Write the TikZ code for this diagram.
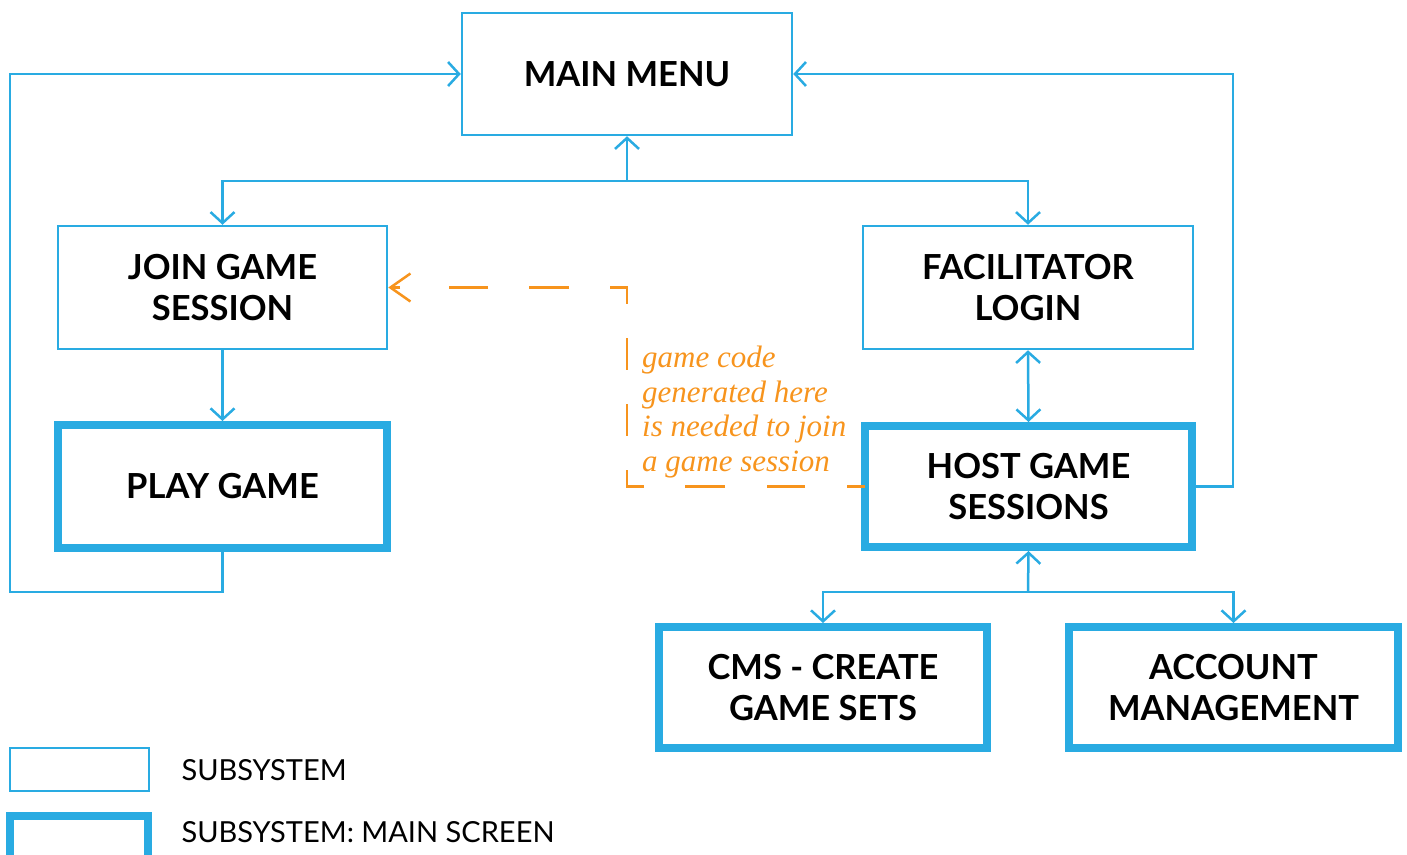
\documentclass[tikz,border=0pt]{standalone}
\usepackage{fontspec}
\setmainfont{Lato}
\newfontfamily\notefont{Liberation Serif}
\usetikzlibrary{arrows.meta}
\definecolor{linkblue}{HTML}{29ABE2}
\definecolor{noteorange}{HTML}{F7941D}
\tikzset{
  barb/.tip={Straight Barb[length=11pt,width=24pt,line width=2.5pt]},
  bigbarb/.tip={Straight Barb[length=20pt,width=28pt,line width=2.5pt]},
  subsys/.style={draw=linkblue, line width=2.5pt, align=center,
    font=\fontsize{34.5}{41}\selectfont\bfseries},
  mainscreen/.style={subsys, line width=8pt},
  conn/.style={draw=linkblue, line width=2.5pt, -barb},
  twoway/.style={draw=linkblue, line width=2.5pt, barb-barb},
  notelink/.style={draw=noteorange, line width=2.5pt,
    dash pattern=on 18pt off 42pt on 38pt off 42pt on 40pt off 41pt
      on 34pt off 34pt on 32pt off 34pt on 32pt off 34pt on 33pt
      off 41pt on 40pt off 41pt on 39pt off 100pt},
  notetip/.style={draw=noteorange, line width=2.5pt, -bigbarb},
  legendtext/.style={anchor=west, font=\fontsize{29}{34}\selectfont}
}
\begin{document}
\begin{tikzpicture}[x=1pt,y=-1pt]
\useasboundingbox (0,0) rectangle (1407,854);

% subsystems
\node[subsys, minimum width=330pt, minimum height=122pt] (mm) at (627,74) {MAIN MENU};
\node[subsys, minimum width=329pt, minimum height=123pt] (join) at (222.5,287.5) {JOIN GAME\\SESSION};
\node[subsys, minimum width=330pt, minimum height=123pt] (fac) at (1028,287.5) {FACILITATOR\\LOGIN};
\node[mainscreen, minimum width=329pt, minimum height=123pt] (play) at (222.5,486.5) {PLAY GAME};
\node[mainscreen, minimum width=327pt, minimum height=121pt] (host) at (1028.5,486.5) {HOST GAME\\SESSIONS};
\node[mainscreen, minimum width=328pt, minimum height=121pt] (cms) at (823,687.5) {CMS - CREATE\\GAME SETS};
\node[mainscreen, minimum width=329pt, minimum height=121pt] (acct) at (1233.5,687.5) {ACCOUNT\\MANAGEMENT};

% junctions and bends
\coordinate (topfork) at (627,181);
\coordinate (botfork) at (1028,592);
\coordinate (leftloop) at (10,592);
\coordinate (rightloop) at (1233,486.5);
\coordinate (notestart) at (865,486.5);
\coordinate (notebot) at (627,486.5);
\coordinate (notetop) at (627,287.5);
\coordinate (notehead) at (400,287.5);

% connectors
\draw[conn] (topfork) -- (mm.south);
\draw[conn] (topfork) -| (join.north);
\draw[conn] (topfork) -| (fac.north);
\draw[conn] (join.south) -- (play.north);
\draw[twoway] (fac.south) -- (host.north);
\draw[conn] (botfork) -- (host.south);
\draw[conn] (botfork) -| (cms.north);
\draw[conn] (botfork) -| (acct.north);
\draw[conn] (play.south) |- (leftloop) |- (mm.west);
\draw[conn] (host.east) -- (rightloop) |- (mm.east);

% game code hand-over: dashed run, solid head
\draw[notelink] (notestart) -- (notebot) -- (notetop) -- (join.east);
\draw[notetip] (notehead) -- (join.east);
\node[anchor=north west, align=left, text=noteorange, inner sep=0pt,
  font=\notefont\itshape\fontsize{31}{34.5}\selectfont] (note) at (642,346)
  {game code\\generated here\\is needed to join\\a game session};

% legend
\node[draw=linkblue, line width=2.5pt, minimum width=139pt, minimum height=43pt] (legthin) at (79.5,769.5) {};
\node[draw=linkblue, line width=8pt, minimum width=138pt, minimum height=44pt] (legthick) at (79,838) {};
\node[legendtext] (legthinlabel) at (178,770) {SUBSYSTEM};
\node[legendtext] (legthicklabel) at (178,832) {SUBSYSTEM: MAIN SCREEN};
\end{tikzpicture}
\end{document}
